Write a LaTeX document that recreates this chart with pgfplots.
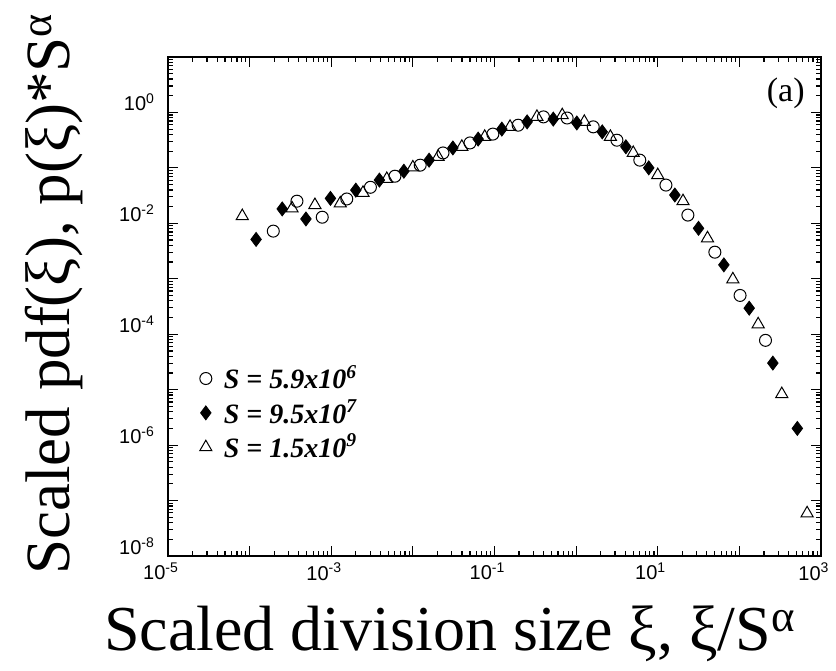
\documentclass[border=0pt]{standalone}
\usepackage{fontspec}
\setmainfont{Liberation Serif}
\newfontfamily\tickfont{Liberation Sans}
\usepackage{pgfplots}
\pgfplotsset{compat=1.18}
\begin{document}
\begin{tikzpicture}[x=1pt,y=1pt]
\begin{loglogaxis}[
  scale only axis, width=326.5pt, height=249.5pt,
  anchor=south west, at={(0,0)},
  xmin=1e-5, xmax=1e3, ymin=1e-8, ymax=1e1,
  xtick={1e-5,1e-4,1e-3,1e-2,1e-1,1,10,100,1000},
  xticklabels={10\textsuperscript{-5},,10\textsuperscript{-3},,10\textsuperscript{-1},,10\textsuperscript{1},,10\textsuperscript{3}},
  ytick={1e-8,1e-7,1e-6,1e-5,1e-4,1e-3,1e-2,1e-1,1,10},
  yticklabels={10\textsuperscript{-8},,10\textsuperscript{-6},,10\textsuperscript{-4},,10\textsuperscript{-2},,10\textsuperscript{0},},
  axis line style={line width=1.1pt},
  major tick length=5pt, minor tick length=2.5pt,
  every tick/.style={black, line width=0.6pt},
  xticklabel style={font=\tickfont\fontsize{10}{10}\selectfont, xshift=-3.5pt},
  yticklabel style={font=\tickfont\fontsize{10}{10}\selectfont, yshift=5pt, xshift=-3pt},
  legend style={draw=none, fill=none, at={(0.045,0.395)}, anchor=north west,
    font=\fontsize{14}{16}\selectfont\bfseries\itshape, row sep=0pt, inner sep=1pt, column sep=4pt},
  legend cell align=left,
]
\addplot[only marks, mark=o, mark size=3pt, mark options={line width=0.5pt}] coordinates {
(1.95e-4,7.24e-3) (3.80e-4,2.51e-2) (7.76e-4,1.29e-2) (1.55e-3,2.75e-2) (3.02e-3,4.47e-2)
(6.03e-3,7.08e-2) (1.23e-2,0.112) (2.34e-2,0.186) (5.01e-2,0.282) (9.55e-2,0.407)
(0.195,0.589) (0.398,0.832) (0.776,0.794) (1.62,0.550) (3.16,0.316) (6.03,0.138)
(12.6,4.90e-2) (23.4,1.41e-2) (50.1,3.02e-3) (102,5.01e-4) (209,7.76e-5)
};
\addlegendentry{S = 5.9x10\textsuperscript{6}}
\addplot[only marks, mark=diamond*, mark size=3.5pt, mark options={fill=black, line width=0.4pt}] coordinates {
(1.20e-4,5.13e-3) (2.51e-4,1.82e-2) (4.90e-4,1.20e-2) (9.77e-4,2.82e-2) (2.00e-3,3.98e-2)
(3.89e-3,6.03e-2) (7.76e-3,8.71e-2) (1.58e-2,0.138) (3.09e-2,0.229) (6.31e-2,0.331)
(0.123,0.501) (0.251,0.676) (0.525,0.759) (1.02,0.646) (2.09,0.447) (4.07,0.240)
(7.76,0.100) (16.2,3.24e-2) (31.6,8.13e-3) (64.6,1.78e-3) (132,2.95e-4) (257,3.02e-5)
(513,2.00e-6)
};
\addlegendentry{S = 9.5x10\textsuperscript{7}}
\addplot[only marks, mark=triangle, mark size=3.5pt, mark options={line width=0.5pt}] coordinates {
(8.13e-5,1.35e-2) (3.31e-4,1.86e-2) (6.31e-4,2.14e-2) (1.29e-3,2.29e-2) (2.45e-3,3.55e-2)
(4.79e-3,6.31e-2) (1.00e-2,0.102) (2.04e-2,0.158) (3.98e-2,0.240) (7.59e-2,0.363)
(0.155,0.550) (0.331,0.832) (0.676,0.891) (1.26,0.676) (2.63,0.363) (5.01,0.186)
(10.0,7.41e-2) (20.4,2.51e-2) (40.7,5.37e-3) (83.2,9.77e-4) (170,1.51e-4) (331,8.32e-6)
(676,5.89e-8)
};
\addlegendentry{S = 1.5x10\textsuperscript{9}}
\node[font=\fontsize{17}{19}\selectfont] at (rel axis cs:0.946,0.928) {(a)};
\end{loglogaxis}
\node[anchor=base, font=\fontsize{32}{35}\selectfont] at (141,-47) {Scaled division size ξ, ξ/S\textsuperscript{α}};
\node[anchor=base, rotate=90, font=\fontsize{31.5}{35}\selectfont] at (-49,131) {Scaled pdf(ξ), p(ξ)*S\textsuperscript{α}};
\pgfresetboundingbox
\path[use as bounding box] (-84,-57) rectangle (334,278);
\end{tikzpicture}
\end{document}
